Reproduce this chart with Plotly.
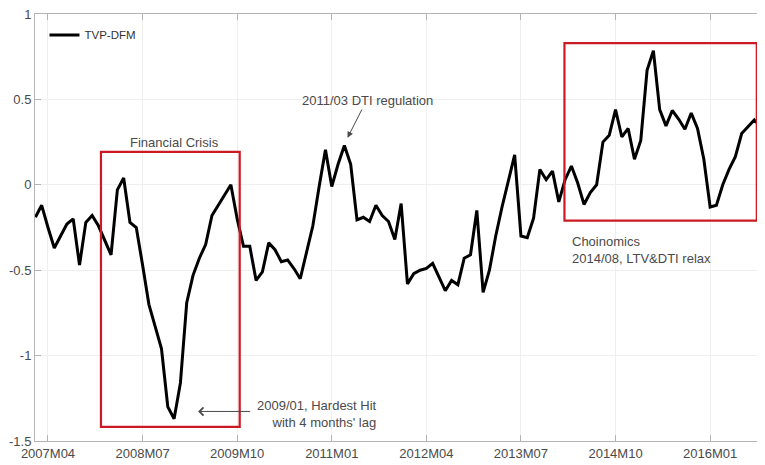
import plotly.graph_objects as go
import pandas as pd

# Monthly TVP-DFM index, starting 2007M02
start_month = "2007-02"
values = [
    -0.19, -0.12, -0.25, -0.37, -0.30, -0.23, -0.20, -0.47, -0.22, -0.18,
    -0.24, -0.33, -0.41, -0.03, 0.04, -0.22, -0.25, -0.47, -0.70, -0.83,
    -0.96, -1.30, -1.37, -1.16, -0.69, -0.53, -0.43, -0.35, -0.18, -0.12,
    -0.06, 0.00, -0.20, -0.36, -0.36, -0.56, -0.51, -0.34, -0.38, -0.45,
    -0.44, -0.49, -0.55, -0.40, -0.24, -0.01, 0.205, -0.01, 0.12, 0.23,
    0.12, -0.205, -0.19, -0.215, -0.12, -0.18, -0.215, -0.32, -0.11, -0.58,
    -0.52, -0.50, -0.49, -0.46, -0.54, -0.62, -0.56, -0.585, -0.43, -0.41,
    -0.15, -0.63, -0.50, -0.30, -0.13, 0.03, 0.175, -0.30, -0.31, -0.195,
    0.09, 0.03, 0.08, -0.10, 0.03, 0.11, 0.01, -0.115, -0.045, 0.0,
    0.25, 0.29, 0.44, 0.28, 0.33, 0.15, 0.26, 0.67, 0.785, 0.44,
    0.345, 0.435, 0.385, 0.325, 0.42, 0.33, 0.15, -0.13, -0.12, 0.0,
    0.09, 0.165, 0.30, 0.34, 0.38, 0.34, 0.50,
]
tick_labels = ["2007M04", "2008M07", "2009M10", "2011M01",
               "2012M04", "2013M07", "2014M10", "2016M01"]
y_ticks = [1, 0.5, 0, -0.5, -1, -1.5]

# Highlight periods (month labels) and value bounds
crisis_box = {"x0": "2007M12", "x1": "2009M10", "y0": -1.417, "y1": 0.193}
choi_box = {"x0": "2014M01", "x1": "2016M08", "y0": -0.21, "y1": 0.83}

months = pd.period_range(start_month, periods=len(values), freq="M")
base = pd.Period("2007-04", freq="M")


def midx(label):
    p = pd.Period(label.replace("M", "-"), freq="M")
    return (p - base).n


x = [(m - base).n for m in months]
tick_pos = [midx(t) for t in tick_labels]

GRAY = "#4a4a4a"
RED = "#cc1a24"
FONT = "Liberation Sans, Arial, sans-serif"

fig = go.Figure()
fig.add_trace(go.Scatter(x=x, y=values, mode="lines", name="TVP-DFM",
                         line=dict(color="black", width=3)))

for b, dx0, dx1 in [(crisis_box, 0.4, 0.4), (choi_box, 0.9, 0.4)]:
    fig.add_shape(type="rect", xref="x", yref="y",
                  x0=midx(b["x0"]) + dx0, x1=midx(b["x1"]) + dx1,
                  y0=b["y0"], y1=b["y1"],
                  line=dict(color=RED, width=2.2))

fig.add_annotation(x=20.1, y=0.25, text="Financial Crisis", showarrow=False,
                   font=dict(size=13, color=GRAY, family=FONT))
fig.add_annotation(x=50.7, y=0.494, text="2011/03 DTI regulation", showarrow=False,
                   font=dict(size=13, color=GRAY, family=FONT))
fig.add_annotation(x=47.5, y=0.275, ax=49.9, ay=0.45, axref="x", ayref="y",
                   xref="x", yref="y", text="", showarrow=True,
                   arrowhead=2, arrowsize=1.2, arrowwidth=1, arrowcolor=GRAY)
fig.add_annotation(x=52.5, y=-1.341, text="2009/01, Hardest Hit<br>with 4 months' lag",
                   showarrow=False, xanchor="right", align="right",
                   font=dict(size=13, color=GRAY, family=FONT))
fig.add_annotation(x=23.8, y=-1.327, ax=32.3, ay=-1.327, axref="x", ayref="y",
                   xref="x", yref="y", text="", showarrow=True,
                   arrowhead=4, arrowsize=1.6, arrowwidth=1, arrowcolor=GRAY)
fig.add_annotation(x=82.7, y=-0.38, text="Choinomics<br>2014/08, LTV&DTI relax",
                   showarrow=False, xanchor="left", align="left",
                   font=dict(size=13, color=GRAY, family=FONT))

axis_common = dict(showline=True, linecolor="#b4b4b4", linewidth=1, mirror="ticks",
                   ticks="inside", ticklen=6, tickcolor="#b4b4b4",
                   showgrid=True, gridcolor="#efefef", gridwidth=1, zeroline=False,
                   ticklabeloverflow="allow",
                   tickfont=dict(size=13, color=GRAY, family=FONT))

fig.update_xaxes(range=[-2.06, 113.7], tickvals=tick_pos, ticktext=tick_labels,
                 **axis_common)
fig.update_yaxes(range=[-1.5, 1], tickvals=y_ticks,
                 ticktext=[("%g" % v) for v in y_ticks], **axis_common)

# The page body has an 8px default margin; size the figure to fill the window.
fig.update_layout(
    width=757, height=457,
    margin=dict(l=27, r=0, t=6, b=24),
    paper_bgcolor="white", plot_bgcolor="white",
    showlegend=True,
    legend=dict(x=0.013, y=0.985, xanchor="left", yanchor="top",
                bgcolor="rgba(0,0,0,0)", borderwidth=0,
                font=dict(size=11.5, color="#333333", family=FONT),
                itemwidth=30),
    font=dict(family=FONT),
)

fig.write_html("out.html")
